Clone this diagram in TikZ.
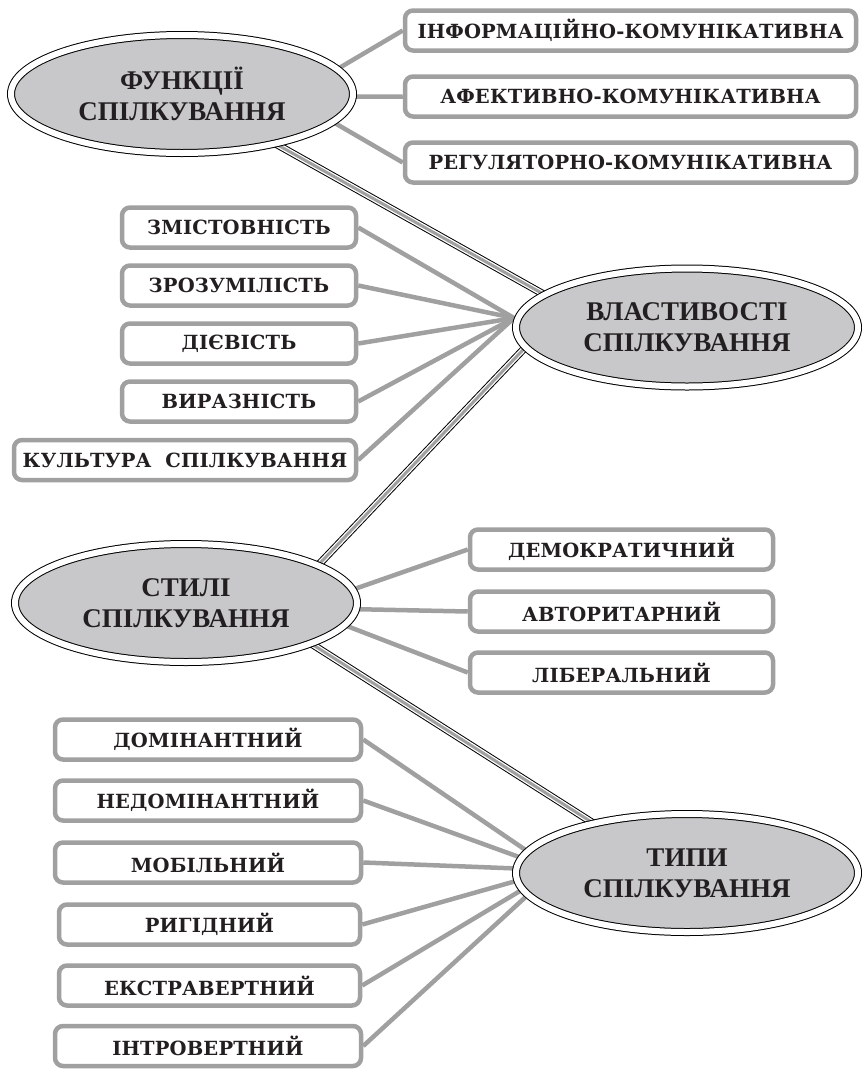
\documentclass[tikz,border=0pt]{standalone}
\usepackage{fontspec}
\setmainfont{Liberation Serif}
\newfontfamily\tagfont[LetterSpace=0.8]{DejaVu Serif}
\usetikzlibrary{shapes.geometric, backgrounds}
\definecolor{ovalgray}{RGB}{200,200,202}
\definecolor{framegray}{RGB}{160,160,160}
\definecolor{inkblack}{RGB}{35,31,32}

\begin{document}
\begin{tikzpicture}[x=1pt,y=-1pt,
    bubble/.style={ellipse,draw=black,line width=1pt,double=white,double distance=6pt,
      fill=ovalgray,minimum width=342pt,minimum height=118pt,inner sep=0pt,align=center,
      text=inkblack,font=\fontsize{27}{31}\selectfont\bfseries},
    tag/.style={draw=framegray,line width=4.5pt,rounded corners=8pt,fill=white,
      minimum height=40pt,inner sep=0pt,text=inkblack,font=\tagfont\fontsize{19.5}{22}\selectfont\bfseries},
    link/.style={framegray,line width=4.5pt},
    twin/.style={black,line width=7.5pt,postaction={draw=white,line width=5.5pt},
      postaction={draw=framegray,line width=3pt}}]
  \useasboundingbox (0,0) rectangle (862,1069);
  \node[bubble] (func) at (182,94) {ФУНКЦІЇ\\СПІЛКУВАННЯ};
  \node[bubble] (prop) at (687,327.5) {ВЛАСТИВОСТІ\\СПІЛКУВАННЯ};
  \node[bubble] (styl) at (186,603) {СТИЛІ\\СПІЛКУВАННЯ};
  \node[bubble] (kind) at (687,873) {ТИПИ\\СПІЛКУВАННЯ};

  \node[tag,minimum width=451pt] (info) at (630.5,30.5) {ІНФОРМАЦІЙНО-КОМУНІКАТИВНА};
  \node[tag,minimum width=451pt] (affe) at (630.5,96.5) {АФЕКТИВНО-КОМУНІКАТИВНА};
  \node[tag,minimum width=451pt] (regu) at (630.5,162.5) {РЕГУЛЯТОРНО-КОМУНІКАТИВНА};

  \node[tag,minimum width=234pt] (zmist) at (239,227.5) {ЗМІСТОВНІСТЬ};
  \node[tag,minimum width=234pt] (zroz) at (239,285.5) {ЗРОЗУМІЛІСТЬ};
  \node[tag,minimum width=234pt] (diev) at (239,343.5) {ДІЄВІСТЬ};
  \node[tag,minimum width=234pt] (vyraz) at (239,401.5) {ВИРАЗНІСТЬ};
  \node[tag,minimum width=342pt] (kult) at (185,460) {КУЛЬТУРА~~СПІЛКУВАННЯ};

  \node[tag,minimum width=303pt] (demo) at (621.5,549.5) {ДЕМОКРАТИЧНИЙ};
  \node[tag,minimum width=303pt] (avto) at (621.5,611.5) {АВТОРИТАРНИЙ};
  \node[tag,minimum width=303pt] (libe) at (621.5,672.5) {ЛІБЕРАЛЬНИЙ};

  \node[tag,minimum width=306pt] (domi) at (208,739.5) {ДОМІНАНТНИЙ};
  \node[tag,minimum width=306pt] (nedo) at (208,800.5) {НЕДОМІНАНТНИЙ};
  \node[tag,minimum width=306pt] (mobi) at (208,862.5) {МОБІЛЬНИЙ};
  \node[tag,minimum width=301pt] (rygi) at (209.5,924.5) {РИГІДНИЙ};
  \node[tag,minimum width=301pt] (ekst) at (209.5,985.5) {ЕКСТРАВЕРТНИЙ};
  \node[tag,minimum width=306pt] (intr) at (208,1046) {ІНТРОВЕРТНИЙ};

  \coordinate (fhub) at (290,97);
  \coordinate (phub) at (514,318);
  \coordinate (shub) at (300,608);
  \coordinate (khub) at (555,870);

  \begin{scope}[on background layer]
    \foreach \b in {info,affe,regu} \draw[link] (\b.west) -- (fhub);
    \foreach \b in {zmist,zroz,diev,vyraz,kult} \draw[link] (\b.east) -- (phub);
    \foreach \b in {demo,avto,libe} \draw[link] (\b.west) -- (shub);
    \foreach \b in {domi,nedo,mobi,rygi,ekst,intr} \draw[link] (\b.east) -- (khub);
    \draw[twin] (func.-28) -- (prop.167);
    \draw[twin] (prop.-173) -- (styl.16);
    \draw[twin] (styl.-18) -- (kind.152);
  \end{scope}
\end{tikzpicture}
\end{document}
